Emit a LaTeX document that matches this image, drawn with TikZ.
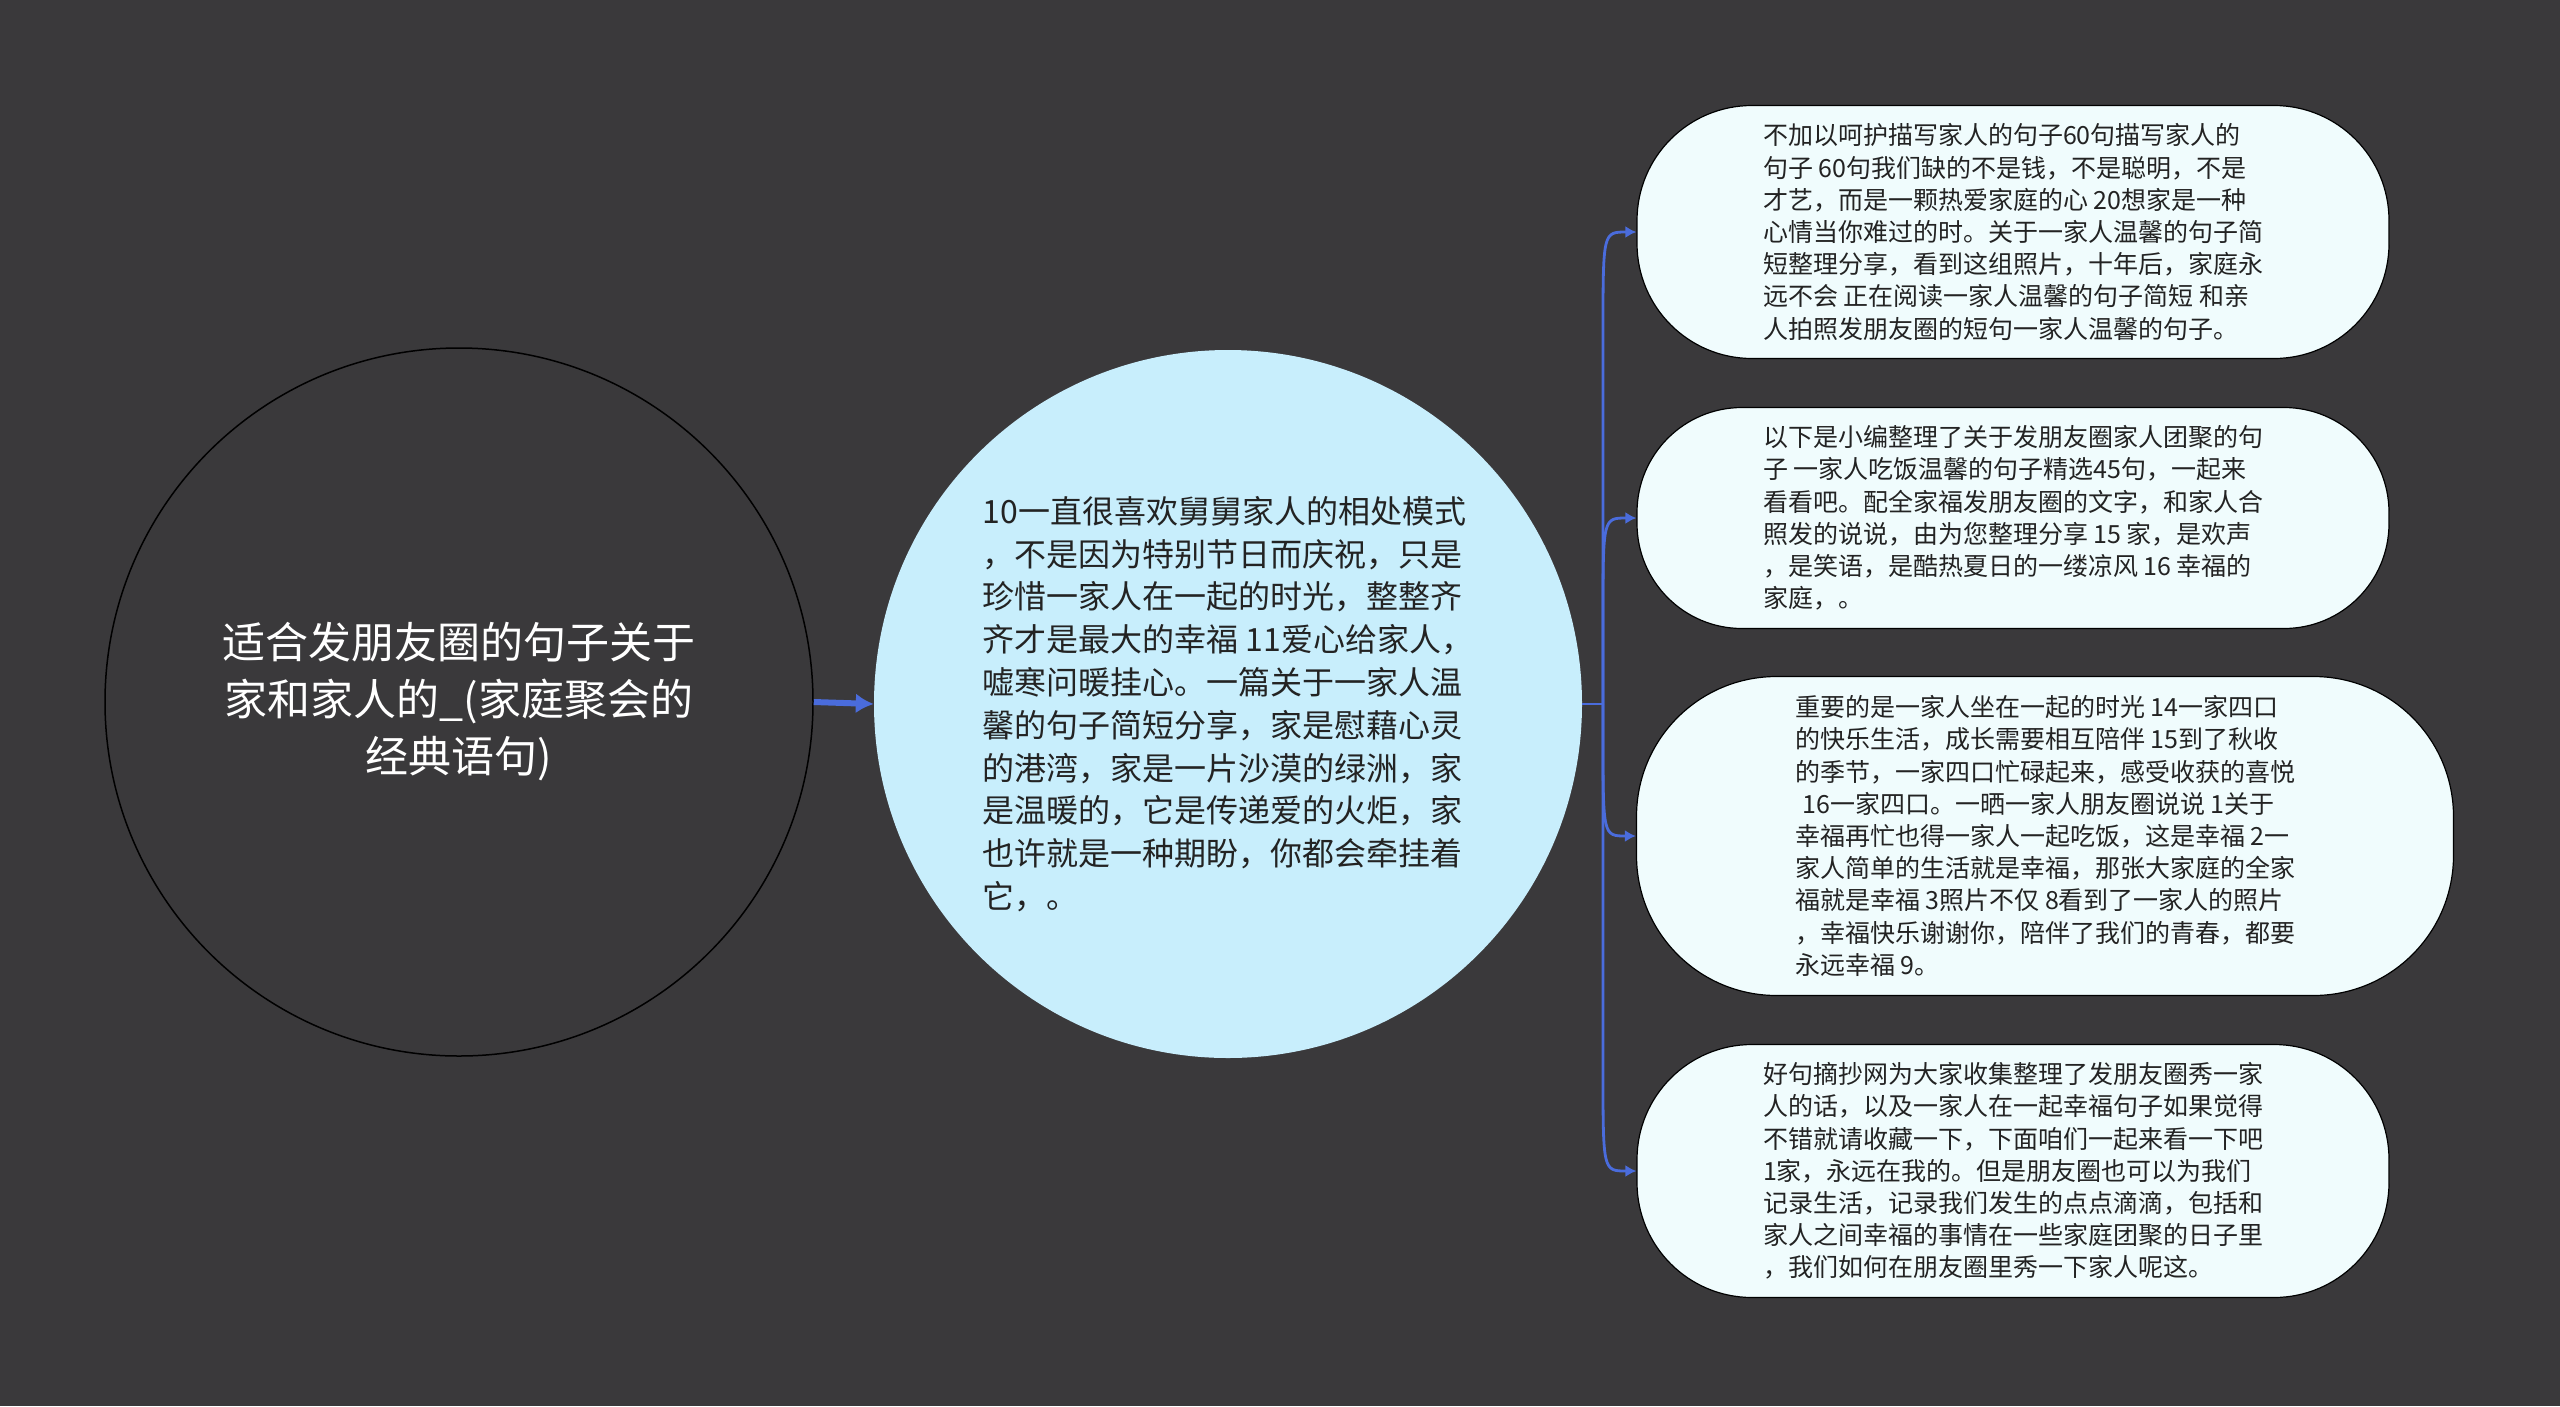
\documentclass[tikz,border=0pt]{standalone}
\usepackage{fontspec}
\newfontfamily\cjk{Noto Sans CJK SC}
\usetikzlibrary{arrows.meta,calc}
\definecolor{bg}{RGB}{58,57,59}
\definecolor{midblue}{RGB}{200,238,252}
\definecolor{boxfill}{RGB}{240,252,253}
\definecolor{conn}{RGB}{74,108,220}
\definecolor{txt}{RGB}{35,35,35}
\begin{document}
\begin{tikzpicture}[x=1pt,y=-1pt,
 root/.style={circle, draw=black, line width=1.5pt, fill=bg, minimum size=708pt, inner sep=0pt, text=white, align=center, font=\cjk\fontsize{43}{57}\selectfont},
 mid/.style={circle, fill=midblue, minimum size=708pt, inner sep=0pt, text=txt, align=left, font=\cjk\fontsize{32}{42.8}\selectfont},
 leaf/.style={rectangle, fill=boxfill, draw=black, line width=1.2pt, inner sep=0pt, text=txt, align=left, font=\cjk\fontsize{25}{32.2}\selectfont, minimum width=752pt},
 link/.style={draw=conn, line width=2.8pt, -{Latex[length=11pt,width=12pt]}},
 plainlink/.style={draw=conn, line width=2.8pt},
 mainlink/.style={draw=conn, line width=6pt, -{Latex[length=18pt,width=20pt]}}
]
\fill[bg] (0,0) rectangle (2560,1406);
\useasboundingbox (0,0) rectangle (2560,1406);

\node[root] (root) at (459,702) {适合发朋友圈的句子关于\\家和家人的\_(家庭聚会的\\经典语句)};

\node[mid] (mid) at (1228,704) {10一直很喜欢舅舅家人的相处模式\\，不是因为特别节日而庆祝，只是\\珍惜一家人在一起的时光，整整齐\\齐才是最大的幸福 11爱心给家人，\\嘘寒问暖挂心。一篇关于一家人温\\馨的句子简短分享，家是慰藉心灵\\的港湾，家是一片沙漠的绿洲，家\\是温暖的，它是传递爱的火炬，家\\也许就是一种期盼，你都会牵挂着\\它，。};

\node[leaf, minimum height=253pt, rounded corners=115pt] (b1) at (2013,232) {不加以呵护描写家人的句子60句描写家人的\\句子 60句我们缺的不是钱，不是聪明，不是\\才艺，而是一颗热爱家庭的心 20想家是一种\\心情当你难过的时。关于一家人温馨的句子简\\短整理分享，看到这组照片，十年后，家庭永\\远不会 正在阅读一家人温馨的句子简短 和亲\\人拍照发朋友圈的短句一家人温馨的句子。};

\node[leaf, minimum height=221pt, rounded corners=105pt] (b2) at (2013,518) {以下是小编整理了关于发朋友圈家人团聚的句\\子 一家人吃饭温馨的句子精选45句，一起来\\看看吧。配全家福发朋友圈的文字，和家人合\\照发的说说，由为您整理分享 15 家，是欢声\\，是笑语，是酷热夏日的一缕凉风 16 幸福的\\家庭，。};

\node[leaf, minimum width=817pt, minimum height=319pt, rounded corners=140pt] (b3) at (2045,836) {重要的是一家人坐在一起的时光 14一家四口\\的快乐生活，成长需要相互陪伴 15到了秋收\\的季节，一家四口忙碌起来，感受收获的喜悦\\\hspace*{0.3em}16一家四口。一晒一家人朋友圈说说 1关于\\幸福再忙也得一家人一起吃饭，这是幸福 2一\\家人简单的生活就是幸福，那张大家庭的全家\\福就是幸福 3照片不仅 8看到了一家人的照片\\，幸福快乐谢谢你，陪伴了我们的青春，都要\\永远幸福 9。};

\node[leaf, minimum height=253pt, rounded corners=115pt] (b4) at (2013,1171) {好句摘抄网为大家收集整理了发朋友圈秀一家\\人的话，以及一家人在一起幸福句子如果觉得\\不错就请收藏一下，下面咱们一起来看一下吧\\1家，永远在我的。但是朋友圈也可以为我们\\记录生活，记录我们发生的点点滴滴，包括和\\家人之间幸福的事情在一些家庭团聚的日子里\\，我们如何在朋友圈里秀一下家人呢这。};

\coordinate (j) at (1603,704);
\draw[mainlink] (root.east) -- (mid.west);
\draw[plainlink] (mid.east) -- (j);
\draw[link] (j) -- ($(j |- b1.west)+(0,100)$) .. controls (j |- b1.west) .. (b1.west);
\draw[link] (j) -- ($(j |- b2.west)+(0,100)$) .. controls (j |- b2.west) .. (b2.west);
\draw[link] (j) -- ($(j |- b3.west)+(0,-100)$) .. controls (j |- b3.west) .. (b3.west);
\draw[link] (j) -- ($(j |- b4.west)+(0,-100)$) .. controls (j |- b4.west) .. (b4.west);
\end{tikzpicture}
\end{document}
